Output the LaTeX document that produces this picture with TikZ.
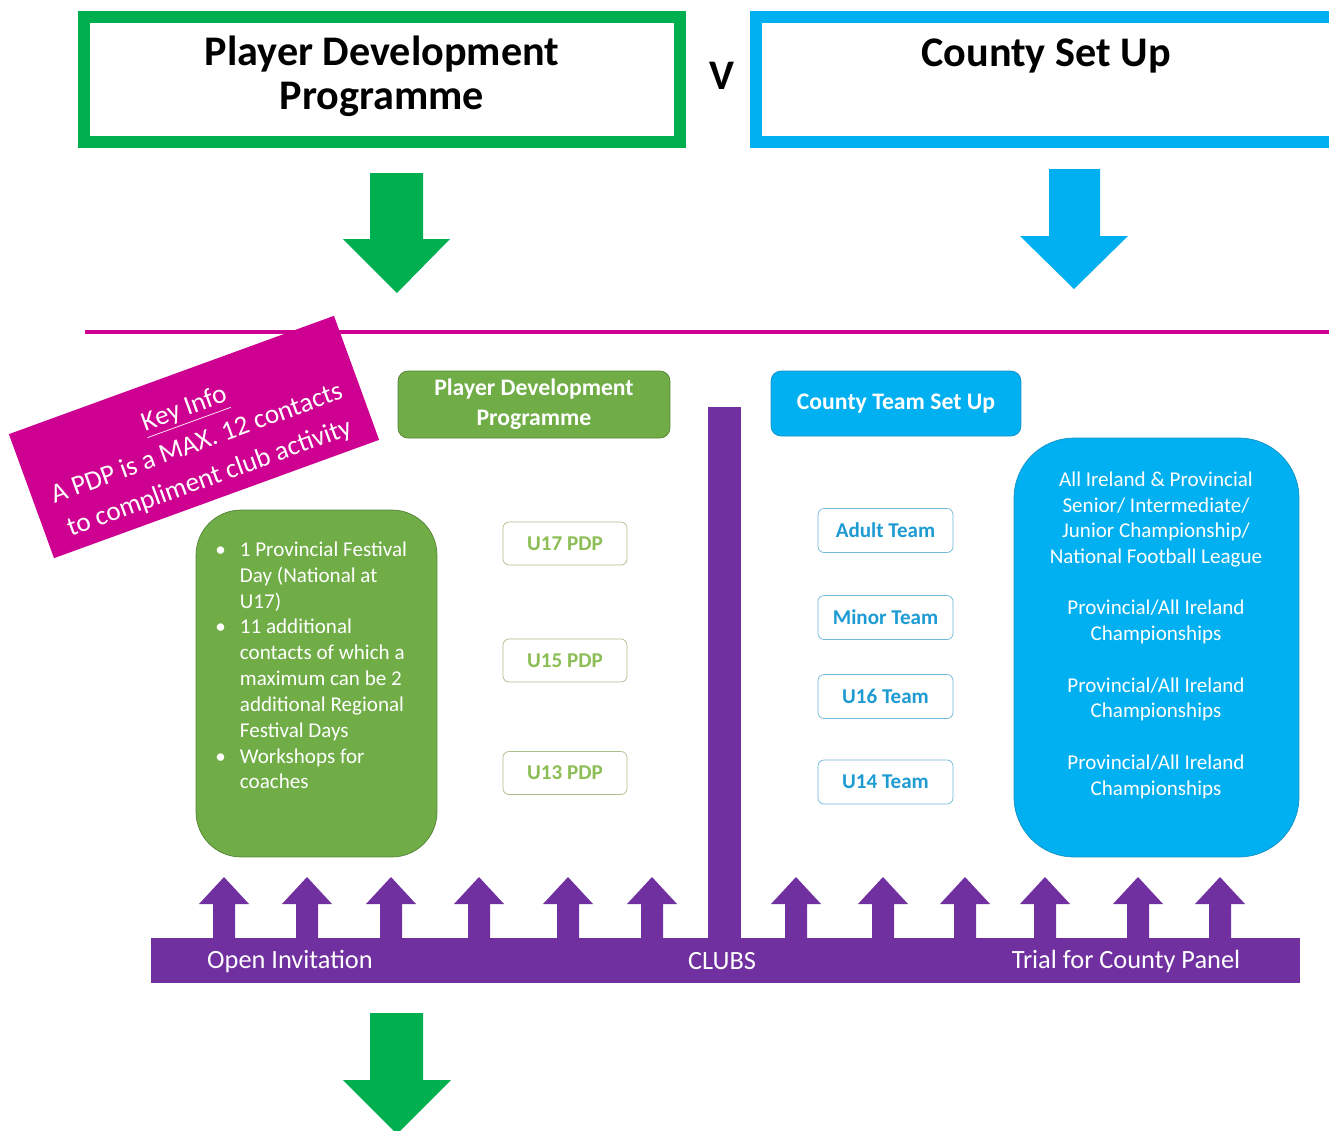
\documentclass[tikz,border=0pt]{standalone}
\usepackage{fontspec}
\setmainfont{Carlito}
\definecolor{framegreen}{RGB}{0,176,80}
\definecolor{frameblue}{RGB}{0,176,240}
\definecolor{keypink}{RGB}{206,0,145}
\definecolor{pdpgreen}{RGB}{112,173,71}
\definecolor{pdpedge}{RGB}{84,130,53}
\definecolor{countyblue}{RGB}{0,176,240}
\definecolor{countyedge}{RGB}{20,145,195}
\definecolor{clubpurple}{RGB}{112,48,160}
\definecolor{agetext}{RGB}{140,190,85}
\definecolor{ageline}{RGB}{170,190,140}
\definecolor{teamtext}{RGB}{30,155,210}
\definecolor{teamline}{RGB}{110,185,215}
\begin{document}
\begin{tikzpicture}[x=0.02cm,y=-0.02cm,
    title/.style={font=\fontsize{24}{25}\selectfont\bfseries, align=center},
    header/.style={rounded corners=0.2cm, text=white, align=center,
        font=\fontsize{13.5}{17}\selectfont\bfseries},
    agebox/.style={draw=ageline, fill=white, rounded corners=0.12cm,
        minimum width=2.48cm, minimum height=0.86cm, text=agetext,
        font=\fontsize{12}{14}\selectfont\bfseries},
    teambox/.style={draw=teamline, fill=white, rounded corners=0.12cm,
        minimum width=2.7cm, minimum height=0.88cm, text=teamtext,
        font=\fontsize{12}{14}\selectfont\bfseries},
    bartext/.style={text=white, font=\fontsize{15}{18}\selectfont},
    infotext/.style={text=white, inner sep=0pt, font=\fontsize{12}{14.7}\selectfont}]
    \useasboundingbox (0,0) rectangle (1329,1130);
    \draw[framegreen, line width=6.8pt] (84,17) rectangle (680,142);
    \draw[frameblue, line width=6.8pt] (756,17) rectangle (1345,142);
    \node[title] (pdptitle) at (382,76) {Player Development\\Programme};
    \node[title] (versus) at (722,76) {V};
    \node[title] (countytitle) at (1046,56) {County Set Up};
    \fill[framegreen] (370,173) -- (423,173) -- (423,239) -- (450,239) -- (397,293) -- (343,239) -- (370,239) -- cycle;
    \fill[frameblue] (1049,169) -- (1100,169) -- (1100,236) -- (1128,236) -- (1074,289) -- (1020,236) -- (1049,236) -- cycle;
    \draw[keypink, line width=2.8pt] (85,332) -- (1329,332);
    \node[fill=keypink, rotate=20, minimum width=6.92cm, minimum height=2.64cm] (keyinfo) at (194,437) {};
    \node[rotate=20, text=white, align=center, inner sep=0pt, font=\fontsize{15.5}{21}\selectfont]
        (keytext) at (197,444) {\underline{Key Info}\\A PDP is a MAX. 12 contacts\\to compliment club activity};
    \node[header, fill=pdpgreen, draw=pdpedge, minimum width=5.44cm, minimum height=1.34cm]
        (pdphead) at (534,404.5) {Player Development\\Programme};
    \node[header, fill=countyblue, draw=countyedge, minimum width=5cm, minimum height=1.3cm]
        (countyhead) at (896,403.5) {County Team Set Up};
    \fill[clubpurple] (708,407) rectangle (741,940);
    \node[fill=pdpgreen, draw=pdpedge, rounded corners=0.9cm, minimum width=4.82cm,
        minimum height=6.94cm] (pdpinfo) at (316.5,683.5) {};
    \node[infotext, anchor=north west] (pdplist) at (215,538)
        {\begin{tabular}{@{}l@{\hspace{8pt}}l@{}}
        \textbullet & 1 Provincial Festival\\
         & Day (National at\\
         & U17)\\
        \textbullet & 11 additional\\
         & contacts of which a\\
         & maximum can be 2\\
         & additional Regional\\
         & Festival Days\\
        \textbullet & Workshops for\\
         & coaches
        \end{tabular}};
    \foreach \age/\y in {17/543.5,15/660.5,13/773}
        {\node[agebox] (u\age) at (565,\y) {U\age{} PDP};}
    \node[teambox] (adult) at (885.5,530.5) {Adult Team};
    \node[teambox] (minor) at (885.5,617.5) {Minor Team};
    \node[teambox] (u16) at (885.5,696.5) {U16 Team};
    \node[teambox] (u14) at (885.5,782) {U14 Team};
    \node[fill=countyblue, draw=countyedge, rounded corners=1.2cm, minimum width=5.7cm,
        minimum height=8.38cm] (countyinfo) at (1156.5,647.5) {};
    \node[infotext, align=center] (countylist) at (1156,635)
        {All Ireland \& Provincial\\Senior/ Intermediate/\\Junior Championship/\\National Football League\\[14.5pt]
        Provincial/All Ireland\\Championships\\[14.5pt]
        Provincial/All Ireland\\Championships\\[14.5pt]
        Provincial/All Ireland\\Championships};
    \fill[clubpurple] (151,938) rectangle (1300,983);
    \foreach \x in {224,307,391,479,568,652,796,883,965,1045,1138,1220}
        {\fill[clubpurple] (\x-11,940) -- (\x-11,904) -- (\x-25,904) -- (\x,877) -- (\x+25,904) -- (\x+11,904) -- (\x+11,940) -- cycle;}
    \node[bartext] (openinv) at (290,961) {Open Invitation};
    \node[bartext] (clubs) at (722,961) {CLUBS};
    \node[bartext] (trial) at (1126,961) {Trial for County Panel};
    \fill[framegreen] (370,1013) -- (423,1013) -- (423,1080) -- (451,1080) -- (397,1134) -- (343,1080) -- (370,1080) -- cycle;
\end{tikzpicture}
\end{document}
